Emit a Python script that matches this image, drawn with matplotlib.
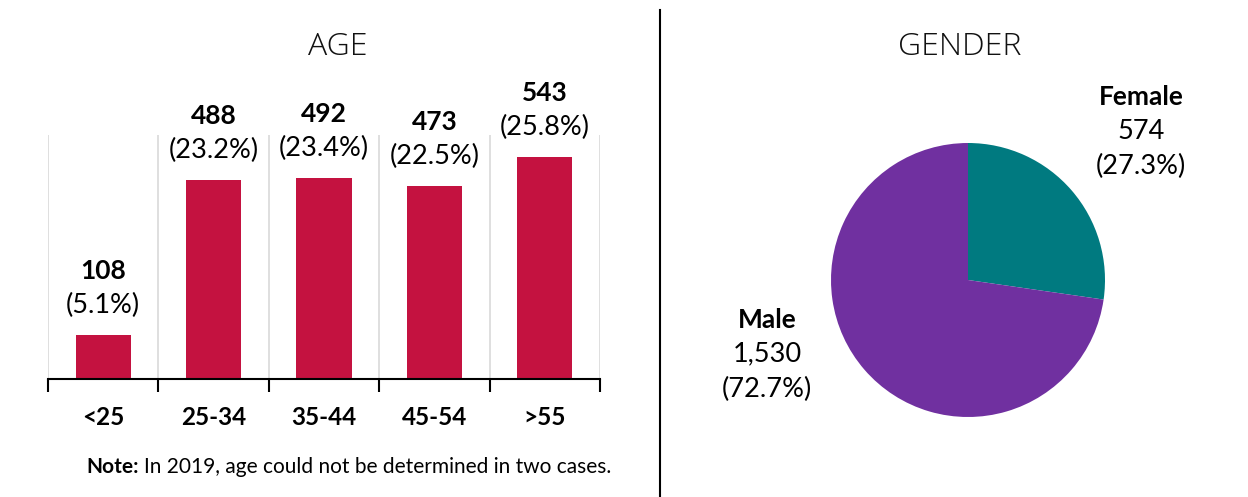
import matplotlib
matplotlib.use("Agg")
import matplotlib.pyplot as plt

# age data
age_groups = ["<25", "25-34", "35-44", "45-54", ">55"]
age_counts = [108, 488, 492, 473, 543]
age_pcts = ["5.1%", "23.2%", "23.4%", "22.5%", "25.8%"]

# gender data
genders = ["Female", "Male"]
gender_counts = [574, 1530]
gender_labels = ["574", "1,530"]
gender_pcts = ["27.3%", "72.7%"]

W, H = 1248, 497
plt.rcParams['font.family'] = ['Lato', 'DejaVu Sans']

fig = plt.figure(figsize=(W / 100, H / 100), dpi=100)


def fx(x):
    return x / W


def fy(y):
    return 1 - y / H


# ---- bar chart
ax = fig.add_axes([fx(48), fy(379), (600 - 48) / W, (379 - 135) / H])
xs = range(len(age_groups))
ax.bar(xs, age_counts, width=0.5, color="#C41240")
ax.set_xlim(-0.5, len(age_groups) - 0.5)
ax.set_ylim(0, 597)
for b in [i - 0.5 for i in range(len(age_groups) + 1)]:
    ax.axvline(b, color="#d9d9d9", lw=1.2, zorder=0)
for s in ["top", "right", "left"]:
    ax.spines[s].set_visible(False)
ax.spines["bottom"].set_linewidth(1.5)
ax.set_yticks([])
ax.set_xticks([i - 0.5 for i in range(len(age_groups) + 1)])
ax.set_xticklabels([])
ax.tick_params(axis="x", length=9, width=1.5, direction="out")
for i, (n, p) in enumerate(zip(age_counts, age_pcts)):
    ax.annotate(f"({p})", (i, n), xytext=(0, 21), textcoords="offset points",
                ha="center", va="center", fontsize=19.5)
    ax.annotate(str(n), (i, n), xytext=(0, 46), textcoords="offset points",
                ha="center", va="center", fontsize=19, fontweight="bold")
    ax.annotate(age_groups[i], (i, 0), xytext=(0, -28), textcoords="offset points",
                ha="center", va="center", fontsize=17.5, fontweight="bold",
                annotation_clip=False)

title_font = dict(fontsize=23, family=["Open Sans", "DejaVu Sans"], fontweight=300,
                  color="#111111")
fig.text(fx(338), fy(47), "AGE", ha="center", va="center", **title_font)

note = fig.text(fx(86), fy(467), "Note:", ha="left", va="center", fontsize=15,
                fontweight="bold")
ax.annotate("In 2019, age could not be determined in two cases.", xy=(1, 0.5),
            xycoords=note, xytext=(4, 0), textcoords="offset points",
            ha="left", va="center", fontsize=15, annotation_clip=False)

# separator
fig.add_artist(plt.Line2D([fx(660), fx(660)], [0, fy(10)], color="black", lw=1.5))

# ---- pie chart
pax = fig.add_axes([fx(831), fy(417), 274 / W, 274 / H])
pax.pie(gender_counts, colors=["#007A80", "#7030A0"], startangle=90,
        counterclock=False, wedgeprops=dict(linewidth=0))
pax.set_xlim(-1, 1)
pax.set_ylim(-1, 1)
pax.set_aspect("auto")

fig.text(fx(960), fy(47), "GENDER", ha="center", va="center", **title_font)

label_pos = [(1141, 97), (767, 320)]
for (x, y), g, n, p in zip(label_pos, genders, gender_labels, gender_pcts):
    fig.text(fx(x), fy(y), g, ha="center", va="center", fontsize=19, fontweight="bold")
    fig.text(fx(x), fy(y + 34), n, ha="center", va="center", fontsize=19.5)
    fig.text(fx(x), fy(y + 69), f"({p})", ha="center", va="center", fontsize=19.5)

fig.savefig("out.png", dpi=100)
